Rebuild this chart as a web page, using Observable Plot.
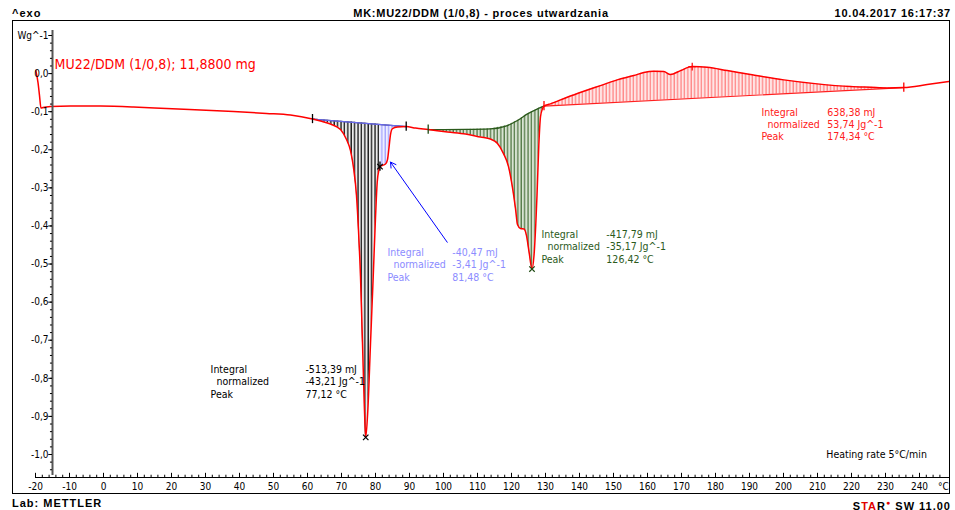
<!DOCTYPE html>
<html><head><meta charset="utf-8">
<script src="https://cdn.jsdelivr.net/npm/d3@7"></script>
<script src="https://cdn.jsdelivr.net/npm/@observablehq/plot@0.6"></script>
<style>
body{margin:0;background:#fff;width:955px;height:510px;position:relative;overflow:hidden;font-family:"Liberation Sans",Arial,sans-serif;}
.hdr{position:absolute;font-weight:bold;font-size:11px;letter-spacing:0.75px;line-height:14px;color:#000;white-space:nowrap}
#frame{position:absolute;left:12px;top:20px;width:938px;height:474px;border:1.5px solid #000;box-sizing:border-box;pointer-events:none}
#chart{position:absolute;left:0;top:20px}
</style></head><body>
<svg width="0" height="0" style="position:absolute"><defs>
<pattern id="hBlack" patternUnits="userSpaceOnUse" width="3.4" height="8"><rect width="3.4" height="8" fill="#ececec"/><line x1="1" y1="0" x2="1" y2="8" stroke="#000" stroke-width="1.2"/></pattern>
<pattern id="hBlue" patternUnits="userSpaceOnUse" width="3.4" height="8"><rect width="3.4" height="8" fill="#eeeeff"/><line x1="1" y1="0" x2="1" y2="8" stroke="#8f8fff" stroke-width="1"/></pattern>
<pattern id="hGreen" patternUnits="userSpaceOnUse" width="3.4" height="8"><rect width="3.4" height="8" fill="#d9e4d3"/><line x1="1" y1="0" x2="1" y2="8" stroke="#2b5a1c" stroke-width="1"/></pattern>
<pattern id="hRed" patternUnits="userSpaceOnUse" width="3.4" height="8"><rect width="3.4" height="8" fill="#ffe6e6"/><line x1="1" y1="0" x2="1" y2="8" stroke="#ff6a6a" stroke-width="1"/></pattern>
</defs></svg>
<div class="hdr" style="left:12px;top:6px;letter-spacing:1px">^exo</div>
<div class="hdr" style="left:0;width:962px;text-align:center;top:6px">MK:MU22/DDM (1/0,8) - proces utwardzania</div>
<div class="hdr" style="right:4px;top:6px">10.04.2017 16:17:37</div>
<div id="chart"></div>
<div id="frame"></div>
<div class="hdr" style="left:12px;top:496px;letter-spacing:1px">Lab: METTLER</div>
<div class="hdr" style="right:4px;top:496px;letter-spacing:1px">S<span style="color:#e00000">TA</span>R<sup style="color:#e00000;font-size:7px">●</sup> SW 11.00</div>
<script>
// ---- DSC curve (temperature °C, heat flow W/g) ----
const curveT = [-19.9,-19.26,-18.82,-18.38,-17.79,-15.59,-9.71,-0.88,8.82,18.53,28.53,38.24,47.94,55.0,61.47,63.82,66.76,69.71,71.47,72.65,73.53,74.41,75.0,75.59,76.18,76.76,77.12,77.74,78.53,79.32,80.0,80.5,81.03,81.32,81.91,82.94,83.53,83.97,84.41,85.0,86.47,89.03,91.76,95.5,101.18,106.47,110.88,113.82,115.88,117.65,119.12,120.15,121.18,121.76,122.65,123.68,124.41,125.15,126.03,126.62,127.5,128.03,128.53,129.12,129.56,131.47,136.38,141.26,146.18,151.09,155.97,158.91,161.85,164.79,166.76,169.71,173.15,177.56,183.44,190.29,200.09,209.91,219.71,225.59,230.5,235.38,242.26,248.62];
const curveW = [0.008,-0.0236,-0.0577,-0.0906,-0.0892,-0.0866,-0.0848,-0.0853,-0.0879,-0.0919,-0.0958,-0.0997,-0.1045,-0.1089,-0.1194,-0.1247,-0.1325,-0.147,-0.1732,-0.2021,-0.2467,-0.3202,-0.4121,-0.5328,-0.7087,-0.8845,-0.955,-0.8845,-0.7087,-0.5354,-0.378,-0.2861,-0.252,-0.2441,-0.2415,-0.2375,-0.2257,-0.1942,-0.1601,-0.1444,-0.1404,-0.1391,-0.143,-0.147,-0.1535,-0.1588,-0.1667,-0.1719,-0.1837,-0.21,-0.2441,-0.2913,-0.3543,-0.3963,-0.4068,-0.4081,-0.4252,-0.4672,-0.5131,-0.4777,-0.3202,-0.189,-0.1129,-0.0919,-0.0853,-0.0795,-0.0622,-0.0465,-0.0315,-0.0165,-0.0052,0.0026,0.006,0.0052,-0.0026,0.0079,0.0184,0.0165,0.0079,-0.0026,-0.0165,-0.027,-0.0341,-0.036,-0.0375,-0.0367,-0.0289,-0.021];

// ---- integration regions ----
const regionStart = [61.47, 81.32, 95.5, 129.56];
const regionEnd   = [81.32, 89.03, 129.56, 235.38];
const regionPeak  = ["min", "min", "min", "max"];
const baseKnotT = [[61.47, 89.03], [61.47, 89.03], [95.5, 106.47, 113.82, 118.82, 121.76, 124.71, 127.65, 129.56], [129.56, 235.38]];
const baseKnotW = [[-0.1194, -0.1391], [-0.1194, -0.1391], [-0.147, -0.1465, -0.1451, -0.1365, -0.1234, -0.1058, -0.0927, -0.0853], [-0.0853, -0.0367]];
const regionFill = ["url(#hBlack)", "url(#hBlue)", "url(#hGreen)", "url(#hRed)"];
const regionLine = ["#3b3b66", "#6a6aee", "#2b5a1c", "#ff2020"];
const markColor  = ["#000", "#000", "#1e4a12", "#ff0000"];
const peakSymbol = ["times", "times", "times", "plus"];

// ---- result texts ----
const resLabels = ["Integral\n\u00a0\u00a0normalized\nPeak", "Integral\n\u00a0\u00a0normalized\nPeak", "Integral\n\u00a0\u00a0normalized\nPeak", "Integral\n\u00a0\u00a0normalized\nPeak"];
const resValues = ["-513,39 mJ\n-43,21 Jg^-1\n77,12 \u00b0C", "-40,47 mJ\n-3,41 Jg^-1\n81,48 \u00b0C", "-417,79 mJ\n-35,17 Jg^-1\n126,42 \u00b0C", "638,38 mJ\n53,74 Jg^-1\n174,34 \u00b0C"];
const resColor  = ["#000000", "#8c8cff", "#2b5a1c", "#ff2020"];
const resLabelT = [31.5, 83.5, 128.8, 193.5];
const resValueT = [59.4, 102.6, 147.9, 212.9];
const resW      = [-0.808, -0.501, -0.454, -0.1325];
const arrowFrom = [101.1, -0.4428];
const arrowTo   = [84.41, -0.2323];

// ---- axes ----
const xTicks = [-20,-10,0,10,20,30,40,50,60,70,80,90,100,110,120,130,140,150,160,170,180,190,200,210,220,230,240];
const xMinor = d3.range(-20, 248, 2);
const yTicks = [0.1,0.0,-0.1,-0.2,-0.3,-0.4,-0.5,-0.6,-0.7,-0.8,-0.9,-1.0];
const yMinor = d3.range(-52, 6).map(i => i * 0.02);
const yAxisT = -15;
const xAxisW = -1.0604;

const curve = curveT.map((t, i) => ({T: t, W: curveW[i]}));
const regions = regionStart.map((s, k) => {
  const base = d3.scaleLinear().domain(baseKnotT[k]).range(baseKnotW[k]);
  return curve.filter(d => d.T >= s - 1e-9 && d.T <= regionEnd[k] + 1e-9).map(d => ({T: d.T, W: d.W, B: base(d.T), k}));
});
const basePts = regions.flatMap((pts, k) => baseKnotT[k].map((t, j) => ({T: t, W: baseKnotW[k][j], k})));
const curveAt = t => curve.find(d => Math.abs(d.T - t) < 1e-9).W;
const limits = regionStart.map((s, k) => ({T: s, W: curveAt(s), k}))
  .concat([{T: regionEnd[1], W: curveAt(regionEnd[1]), k: 1}, {T: regionEnd[3], W: curveAt(regionEnd[3]), k: 3}]);
const peaks = regions.map((pts, k) => {
  const p = regionPeak[k] === "min" ? d3.least(pts, d => d.W) : d3.greatest(pts, d => d.W);
  return {T: p.T, W: p.W, k};
});
const res = resLabels.map((l, i) => ({i}));
const font = "'DejaVu Sans Condensed','DejaVu Sans',sans-serif";
const fmtY = v => (Math.abs(v) < 1e-9 ? "0,0" : v.toFixed(1).replace(".", ","));

const marks = [];
regions.forEach((pts, k) => {
  marks.push(Plot.areaY(pts, {x: "T", y1: "B", y2: "W", fill: regionFill[k], curve: "monotone-x"}));
});
regions.forEach((pts, k) => {
  marks.push(Plot.line(basePts.filter(d => d.k === k), {x: "T", y: "W", stroke: regionLine[k], strokeWidth: 1.2, curve: "monotone-x"}));
});
marks.push(
  Plot.line(curve, {x: "T", y: "W", stroke: "#ff0000", strokeWidth: 1.5, curve: "monotone-x"}),
  Plot.ruleX(limits, {x: "T", y1: d => d.W - 0.012, y2: d => d.W + 0.012, stroke: d => markColor[d.k], strokeWidth: 1.3}),
  Plot.dot(peaks, {x: "T", y: "W", symbol: d => peakSymbol[d.k], r: 2.6, stroke: d => markColor[d.k], strokeWidth: 1.2}),
  Plot.arrow([0], {x1: arrowFrom[0], y1: arrowFrom[1], x2: arrowTo[0], y2: arrowTo[1], stroke: "#0000ff", strokeWidth: 1, headLength: 9}),
  Plot.text(res, {x: d => resLabelT[d.i], y: d => resW[d.i], text: d => resLabels[d.i], fill: d => resColor[d.i], textAnchor: "start", lineHeight: 1.18, fontSize: 10.5, fontFamily: font}),
  Plot.text(res, {x: d => resValueT[d.i], y: d => resW[d.i], text: d => resValues[d.i], fill: d => resColor[d.i], textAnchor: "start", lineHeight: 1.18, fontSize: 10.5, fontFamily: font}),
  Plot.text(["MU22/DDM (1/0,8); 11,8800 mg"], {x: -14.4, y: 0.0236, text: d => d, fill: "#ff0000", textAnchor: "start", fontSize: 14, fontFamily: font}),
  Plot.text(["Heating rate 5\u00b0C/min"], {x: 212.6, y: -1.0, text: d => d, fill: "#000", textAnchor: "start", fontSize: 10.5, fontFamily: font}),
  // x axis
  Plot.ruleY([xAxisW], {x1: -20, x2: 249, stroke: "#000", strokeWidth: 1}),
  Plot.ruleX(xMinor, {x: d => d, y1: xAxisW, y2: xAxisW + 0.006, stroke: "#000", strokeWidth: 1}),
  Plot.ruleX(xTicks, {x: d => d, y1: xAxisW, y2: xAxisW + 0.011, stroke: "#000", strokeWidth: 1}),
  Plot.text(xTicks, {x: d => d, y: xAxisW, dy: 9, text: d => String(d), fill: "#000", fontSize: 10, fontFamily: font}),
  Plot.text(["\u00b0C"], {x: 247, y: xAxisW, dy: 9, text: d => d, fill: "#000", fontSize: 10, fontFamily: font}),
  // y axis
  Plot.ruleX([yAxisT], {y1: -1.055, y2: 0.113, stroke: "#555", strokeWidth: 2}),
  Plot.ruleY(yMinor, {y: d => d, x1: yAxisT - 0.6, x2: yAxisT, stroke: "#000", strokeWidth: 1}),
  Plot.ruleY(yTicks, {y: d => d, x1: yAxisT - 1.1, x2: yAxisT, stroke: "#000", strokeWidth: 1}),
  Plot.text(yTicks.filter(v => v < 0.05), {x: yAxisT, y: d => d, dx: -4, text: fmtY, textAnchor: "end", fill: "#000", fontSize: 10, fontFamily: font}),
  Plot.text(["Wg^-1"], {x: yAxisT, y: 0.1, dx: -4, text: d => d, textAnchor: "end", fill: "#000", fontSize: 10, fontFamily: font})
);

const chart = Plot.plot({
  width: 955, height: 474,
  x: {domain: [-20, 240], range: [35, 919], axis: null},
  y: {domain: [-1, 0.1], range: [434, 15], axis: null},
  style: {background: "transparent", overflow: "visible"},
  marks
});
document.getElementById("chart").appendChild(chart);
</script>
</body></html>
